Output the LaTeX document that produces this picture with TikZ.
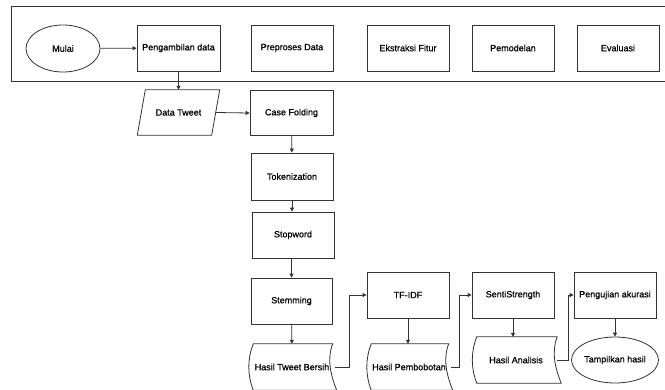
\documentclass[tikz,border=0pt]{standalone}
\usepackage{fontspec}
\setmainfont{Liberation Sans}[FakeBold=0.8]
\newfontfamily\lblfont{Liberation Sans}[FakeBold=0.8]
\usetikzlibrary{shapes.geometric,arrows.meta}
\tikzset{
  ln/.style={draw=black!80, line width=0.8pt},
  arr/.style={ln, -{Triangle[length=4pt,width=4pt]}},
  txt/.style={font=\lblfont\fontsize{9}{10}\selectfont, inner sep=0pt, align=center},
  pbox/.style={txt, ln, rectangle, minimum width=82pt, minimum height=46pt},
  oval/.style={txt, ln, ellipse, minimum width=74pt, minimum height=47pt},
  parabox/.style={txt, rectangle, minimum width=74pt, minimum height=45pt},
  tapebox/.style={txt, rectangle, minimum width=86pt, minimum height=46pt}
}
\newcommand\tapeline[1]{%
  \draw[ln] ([xshift=4pt]#1.north west) -- ([xshift=-2pt]#1.north east)
    .. controls +(-6,15) and +(-6,-15) .. ([xshift=2pt]#1.south east)
    -- ([xshift=4pt]#1.south west)
    .. controls +(-6,-15) and +(-6,15) .. cycle;}
\newcommand\paraline[1]{%
  \draw[ln] ([xshift=4pt]#1.north west) -- ([xshift=4pt]#1.north east)
    -- ([xshift=-4pt]#1.south east) -- ([xshift=-4pt]#1.south west) -- cycle;}
\begin{document}
\begin{tikzpicture}[x=1pt,y=-1pt]
\useasboundingbox (0,0) rectangle (665,389);
\fill[white] (0,0) rectangle (665,389);
% outer frame
\draw[ln] (667,6) -- (11,6) -- (11,81) -- (667,81);
% top row
\node[oval] (mulai) at (63,48.5) {Mulai};
\node[pbox, minimum width=83pt] (ambil) at (178.5,48) {Pengambilan data};
\node[pbox] (prep) at (292,48) {Preproses Data};
\node[pbox] (ekstr) at (408,48) {Ekstraksi Fitur};
\node[pbox] (model) at (513,48) {Pemodelan};
\node[pbox] (eval) at (618,48) {Evaluasi};
% preprocessing column
\node[parabox] (tweet) at (178.5,112.5) {Data Tweet};
\paraline{tweet}
\node[pbox, minimum height=45pt, minimum width=83pt] (case) at (291.5,113) {Case Folding};
\node[pbox, minimum height=47pt] (token) at (292,176.5) {Tokenization};
\node[pbox] (stop) at (293,235) {Stopword};
\node[pbox, minimum width=81pt] (stem) at (291.5,301) {Stemming};
\node[tapebox, minimum width=85pt] (bersih) at (292,367) {Hasil Tweet Bersih};
% TF-IDF
\node[pbox] (tfidf) at (408,295) {TF-IDF};
\node[tapebox, minimum width=83pt] (bobot) at (409,367) {Hasil Pembobotan};
% SentiStrength
\node[pbox] (senti) at (513,295) {SentiStrength};
\node[tapebox] (analisis) at (516,360) {Hasil Analisis};
% Evaluation
\node[pbox] (uji) at (615,295) {Pengujian akurasi};
\node[oval, minimum width=76pt, minimum height=46pt] (tampil) at (615,360) {Tampilkan hasil};
\tapeline{bersih}
\tapeline{bobot}
\tapeline{analisis}
% connectors
\draw[arr] (mulai) -- (ambil);
\draw[arr] (ambil) -- (tweet);
\draw[arr] (tweet.east) -- (case.west);
\draw[arr] (case) -- (token);
\draw[arr] (token.south) -- (token.south |- stop.north);
\draw[arr] (stem.north |- stop.south) -- (stem.north);
\draw[arr] (stem) -- (bersih);
\draw[arr] (bersih.east) -- ++(15,0) |- (tfidf.west);
\draw[arr] (tfidf) -- (tfidf.south |- bobot.north);
\draw[arr] (bobot.east) -- ++(9,0) |- (senti.west);
\draw[arr] (senti.south) -- (senti.south |- analisis.north);
\draw[arr] ([xshift=-2pt]analisis.east) -- (568,360) |- (uji.west);
\draw[arr] (uji) -- (tampil);
\end{tikzpicture}
\end{document}
